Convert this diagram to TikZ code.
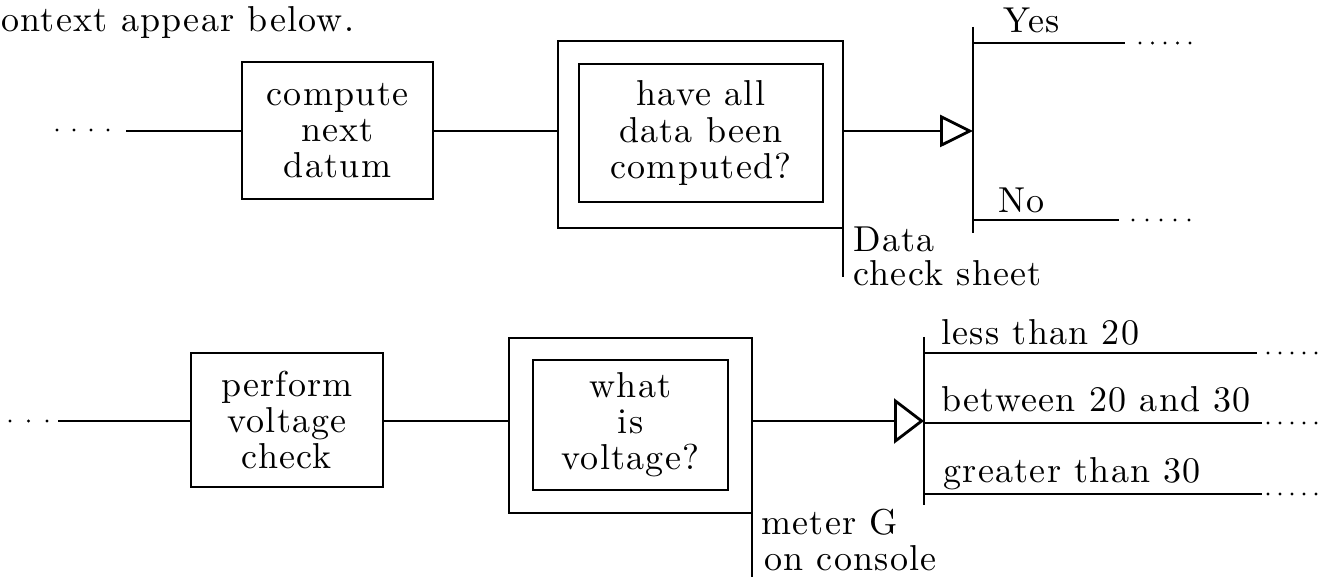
\documentclass[tikz,border=0pt]{standalone}
\usepackage{fontspec}
\setmainfont{lmroman10-regular.otf}[LetterSpace=3.5]
\usepackage{tikz}
\usetikzlibrary{arrows.meta,calc}

\begin{document}
\begin{tikzpicture}[x=0.02cm,y=-0.02cm,line width=1.6pt,
  every node/.style={font=\fontsize{20.5}{20.5}\selectfont},
  box/.style={draw,align=center,inner sep=0pt,outer sep=0pt},
  lbl/.style={anchor=base west,inner sep=0pt},
  dot/.style={fill,radius=0.9pt}]
  \useasboundingbox (0,0) rectangle (1323,577);
  \node[lbl] (intro) at (0,32) {ontext appear below.};

  % first decision
  \node[box,minimum width=3.82cm,minimum height=2.74cm] (datum) at (337.5,130.5) {compute\\next\\datum};
  \node[box,minimum width=5.7cm,minimum height=3.74cm] (allout) at (700.5,134.5) {};
  \node[box,minimum width=4.88cm,minimum height=2.76cm] (all) at (701,133) {have all\\data been\\computed?};
  \foreach \x in {57,74,91,108} \fill[dot] (\x,130) circle;
  \coordinate (in1) at (126,131);
  \draw (in1) -- (in1 -| datum.west);
  \draw (datum.east |- in1) -- (in1 -| allout.west);
  \coordinate (bar1t) at (973,27);
  \coordinate (bar1b) at (973,233);
  \draw (bar1t) -- (bar1b);
  \draw[-{Triangle[open,length=0.66cm,width=0.64cm]}] (allout.east |- in1) -- (in1 -| bar1t);
  \coordinate (yes) at (1125,43);
  \coordinate (no) at (1119,220);
  \draw (yes -| bar1t) -- (yes);
  \draw (no -| bar1t) -- (no);
  \node[lbl] (yeslbl) at (1002,33) {Yes};
  \node[lbl] (nolbl) at (997,213) {No};
  \foreach \x in {1140,1152.5,1165,1177.5,1190} \fill[dot] (\x,43) circle;
  \foreach \x in {1133,1147,1161,1175,1189} \fill[dot] (\x,220) circle;
  \coordinate (sheet) at (843,277);
  \draw (allout.south east) -- (allout.south east |- sheet);
  \node[lbl] (sheet1) at (852,252) {Data};
  \node[lbl] (sheet2) at (852,286) {check sheet};

  % second decision
  \node[box,minimum width=3.84cm,minimum height=2.68cm] (perf) at (287,420) {perform\\voltage\\check};
  \node[box,minimum width=4.86cm,minimum height=3.5cm] (voltout) at (630.5,425.5) {};
  \node[box,minimum width=3.9cm,minimum height=2.6cm] (volt) at (630.5,425) {what\\is\\voltage?};
  \foreach \x in {10,28.5,47} \fill[dot] (\x,421) circle;
  \coordinate (in2) at (58,421);
  \draw (in2) -- (in2 -| perf.west);
  \draw (perf.east |- in2) -- (in2 -| voltout.west);
  \coordinate (bar2t) at (924,337);
  \coordinate (bar2b) at (924,505);
  \draw (bar2t) -- (bar2b);
  \draw[-{Triangle[open,length=0.6cm,width=0.9cm]}] (voltout.east |- in2) -- (in2 -| bar2t);
  \coordinate (low) at (1257,353);
  \coordinate (mid) at (1262,423);
  \coordinate (high) at (1262,494);
  \draw (low -| bar2t) -- (low);
  \draw (mid -| bar2t) -- (mid);
  \draw (high -| bar2t) -- (high);
  \node[lbl] (lowlbl) at (940,345) {less than 20};
  \node[lbl] (midlbl) at (940,412) {between 20 and 30};
  \node[lbl] (highlbl) at (942,483) {greater than 30};
  \foreach \y in {353,423,494}
    \foreach \x in {1268,1280,1292,1304,1316} \fill[dot] (\x,\y) circle;
  \coordinate (meter) at (752,577);
  \draw (voltout.south east) -- (voltout.south east |- meter);
  \node[lbl] (meter1) at (760,535) {meter G};
  \node[lbl] (meter2) at (763,571) {on console};
\end{tikzpicture}
\end{document}
